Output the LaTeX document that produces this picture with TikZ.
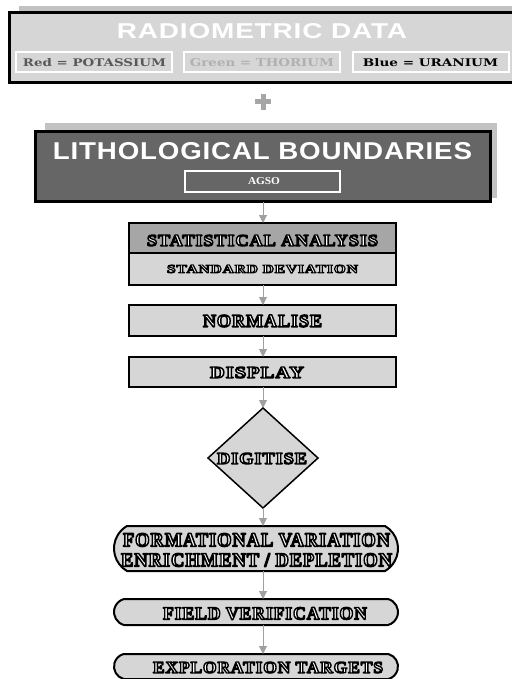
\documentclass[tikz,border=0pt]{standalone}
\usepackage{fontspec}
\setmainfont{Liberation Serif}
\newfontfamily\hsans[LetterSpace=3]{Liberation Sans}
\newfontfamily\slab{DejaVu Serif}
\newfontfamily\spaced[LetterSpace=5]{Liberation Serif}
\usepackage{graphicx}
\usetikzlibrary{shapes.geometric,shapes.misc,arrows.meta}
\definecolor{lgray}{HTML}{D6D6D6}
\definecolor{shad}{HTML}{C2C2C2}
\definecolor{dgray}{HTML}{666666}
\definecolor{mgray}{HTML}{A6A6A6}
\definecolor{arr}{HTML}{A0A0A0}
\definecolor{redtxt}{HTML}{585858}
\definecolor{greentxt}{HTML}{B0B0B0}
\newcommand{\fitt}[3]{\resizebox{#1pt}{#2pt}{#3}}
\newcommand{\olt}[1]{{\color{white}\special{pdf:literal direct 2 Tr 0 G 0.8 w 1 j}\spaced\bfseries #1\special{pdf:literal direct 0 Tr}}}
\tikzset{
  txt/.style={inner sep=0pt, outer sep=0pt},
  frame/.style={draw=black, line width=2pt, inner sep=0pt, outer sep=0pt},
  subbox/.style={draw=white, line width=2pt, fill=lgray, inner sep=0pt, outer sep=0pt, minimum width=156pt, minimum height=20pt},
  oval/.style={rounded rectangle, draw=black, line width=2pt, fill=lgray, inner sep=0pt, outer sep=0pt, minimum width=284pt},
  conn/.style={draw=arr, line width=1pt, -{Triangle[width=8pt,length=8pt]}},
}
\begin{document}
\begin{tikzpicture}[x=1pt,y=-1pt]
\useasboundingbox (0,0) rectangle (511,679);
% top block
\fill[shad] (19,6) rectangle (520,80);
\node[frame, line width=3pt, fill=lgray, minimum width=510.5pt, minimum height=70pt] (radio) at (264.75,47.5) {};
\node[txt] (radiot) at (262,31.5) {\fitt{290}{15}{\color{white}\hsans\bfseries RADIOMETRIC DATA}};
\node[subbox] (red) at (94,62) {};
\node[subbox] (green) at (262,62) {};
\node[subbox] (blue) at (431,62) {};
\node[txt] (redt) at (94.5,63) {\fitt{143}{8}{\color{redtxt}\slab\bfseries Red = POTASSIUM}};
\node[txt] (greent) at (262,63) {\fitt{144}{8}{\color{greentxt}\slab\bfseries Green = THORIUM}};
\node[txt] (bluet) at (430.5,63) {\fitt{135}{8}{\color{black}\slab\bfseries Blue = URANIUM}};
% plus
\fill[mgray] (255,99.5) rectangle (271,104.5);
\fill[mgray] (260.5,94) rectangle (265.5,110);
% lithological block
\fill[shad] (45,123) rectangle (497,198);
\node[frame, line width=3pt, fill=dgray, minimum width=455pt, minimum height=70pt] (litho) at (263,166.5) {};
\node[txt] (lithot) at (262.5,151.5) {\fitt{419}{17}{\color{white}\hsans\bfseries LITHOLOGICAL BOUNDARIES}};
\node[draw=white, line width=2pt, fill=dgray, minimum width=155pt, minimum height=21pt, inner sep=0pt] (agso) at (262.5,181.5) {};
\node[txt] (agsot) at (264,181.5) {\fitt{32}{7}{\color{white}\bfseries AGSO}};
% axis
\coordinate (axis) at (263,0);
% statistical
\node[frame, fill=mgray, minimum width=267pt, minimum height=30pt] (statA) at (262.5,238) {};
\node[frame, fill=lgray, minimum width=267pt, minimum height=32pt] (statB) at (262.5,269) {};
\node[txt] (statAt) at (262.5,240.5) {\fitt{231}{11}{\olt{STATISTICAL ANALYSIS}}};
\node[txt] (statBt) at (262.5,269) {\fitt{191}{8}{\olt{STANDARD DEVIATION}}};
% normalise
\node[frame, fill=lgray, minimum width=267pt, minimum height=31pt] (norm) at (262.5,320.5) {};
\node[txt] (normt) at (262.5,321) {\fitt{119}{12}{\olt{NORMALISE}}};
% display
\node[frame, fill=lgray, minimum width=267pt, minimum height=30pt] (disp) at (262.5,372) {};
\node[txt] (dispt) at (257,372.5) {\fitt{94}{11}{\olt{DISPLAY}}};
% digitise
\node[diamond, draw=black, line width=1.5pt, fill=lgray, minimum width=110pt, minimum height=100pt, inner sep=0pt, outer sep=0pt] (digi) at (263,458) {};
\node[txt] (digit) at (262,458.5) {\fitt{90}{11}{\olt{DIGITISE}}};
% ovals
\node[oval, minimum height=45pt, rounded rectangle arc length=120] (form) at (256,548.5) {};
\node[txt] (formt1) at (256.5,540) {\fitt{267}{13}{\olt{FORMATIONAL VARIATION}}};
\node[txt] (formt2) at (256.5,560) {\fitt{271}{13}{\olt{ENRICHMENT / DEPLETION}}};
\node[oval, minimum height=26pt, rounded rectangle arc length=150] (field) at (256,612) {};
\node[txt] (fieldt) at (265,613.5) {\fitt{204}{12}{\olt{FIELD VERIFICATION}}};
\node[oval, minimum height=25pt, rounded rectangle arc length=150] (expl) at (256,666.5) {};
\node[txt] (explt) at (268,667.5) {\fitt{230}{11}{\olt{EXPLORATION TARGETS}}};
% connectors
\draw[conn] (litho.south -| axis) -- (statA.north -| axis);
\draw[conn] (statB.south -| axis) -- (norm.north -| axis);
\draw[conn] (norm.south -| axis) -- (disp.north -| axis);
\draw[conn] (disp.south -| axis) -- (digi.north);
\draw[conn] (digi.south) -- (form.north -| axis);
\draw[conn] (form.south -| axis) -- (field.north -| axis);
\draw[conn] (field.south -| axis) -- (expl.north -| axis);
\end{tikzpicture}
\end{document}
